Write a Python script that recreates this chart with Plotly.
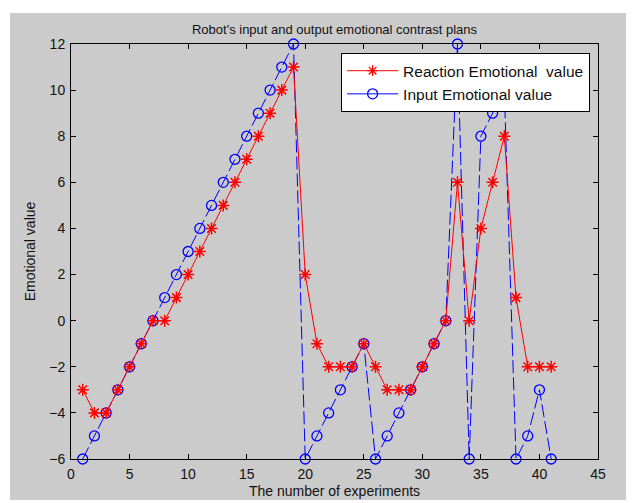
import plotly.graph_objects as go

experiments = list(range(1, 42))
reaction_values = [-3, -4, -4, -3, -2, -1, 0, 0, 1, 2, 3, 4, 5, 6, 7, 8, 9, 10, 11,
                   2, -1, -2, -2, -2, -1, -2, -3, -3, -3, -2, -1, 0, 6, 0, 4, 6, 8,
                   1, -2, -2, -2]
input_values = [-6, -5, -4, -3, -2, -1, 0, 1, 2, 3, 4, 5, 6, 7, 8, 9, 10, 11, 12,
                -6, -5, -4, -3, -2, -1, -6, -5, -4, -3, -2, -1, 0, 12, -6, 8, 9, 10,
                -6, -5, -3, -6]
x_ticks = [0, 5, 10, 15, 20, 25, 30, 35, 40, 45]
y_ticks = [-6, -4, -2, 0, 2, 4, 6, 8, 10, 12]

RED = "#ff0000"
BLUE = "#0000ff"
FONT = "Liberation Sans, Arial, sans-serif"

fig = go.Figure()
fig.add_trace(go.Scatter(
    x=experiments, y=input_values, mode="lines+markers", showlegend=False,
    line=dict(color=BLUE, width=1, dash="13px,4px"),
    marker=dict(symbol="circle-open", size=10, color=BLUE, line=dict(width=1.3)),
    cliponaxis=False,
))
fig.add_trace(go.Scatter(
    x=experiments, y=reaction_values, mode="lines+markers", showlegend=False,
    line=dict(color=RED, width=1),
    marker=dict(symbol="asterisk-open", size=10, color=RED, line=dict(width=1.5, color=RED)),
    cliponaxis=False,
))
# legend entries (solid line samples as in the reference)
fig.add_trace(go.Scatter(
    x=[None], y=[None], mode="lines+markers", name="Reaction Emotional  value",
    line=dict(color=RED, width=1),
    marker=dict(symbol="asterisk-open", size=9, color=RED, line=dict(width=1.3, color=RED)),
))
fig.add_trace(go.Scatter(
    x=[None], y=[None], mode="lines+markers", name="Input Emotional value",
    line=dict(color=BLUE, width=1),
    marker=dict(symbol="circle-open", size=10, color=BLUE, line=dict(width=1.3)),
))

axis_common = dict(
    showgrid=False, zeroline=False, showline=True, linecolor="black", linewidth=1,
    mirror="allticks", ticks="inside", ticklen=5, tickcolor="black",
    tickfont=dict(family=FONT, size=14, color="#111111"), automargin=False,
)

fig.update_layout(
    width=626, height=495,
    margin=dict(l=63, r=36, t=36, b=44),
    paper_bgcolor="white", plot_bgcolor="white",
    font=dict(family=FONT, color="#111111"),
    title=dict(text="Robot's input and output emotional contrast plans",
               x=0.5, xref="paper", xanchor="center", y=1, yanchor="top",
               yref="container", pad=dict(t=17),
               font=dict(size=13, color="#111111")),
    xaxis=dict(range=[0, 45], tickvals=x_ticks, ticklabelstandoff=2,
               title=dict(text="The number of experiments", standoff=5,
                          font=dict(size=14)),
               **axis_common),
    yaxis=dict(range=[-6, 12], tickvals=y_ticks, ticklabelstandoff=2,
               title=dict(text="Emotional value", standoff=10,
                          font=dict(size=14)),
               **axis_common),
    legend=dict(x=0.985, y=0.978, xanchor="right", yanchor="top",
                bgcolor="white", bordercolor="black", borderwidth=1,
                font=dict(size=15.5, color="#111111"), tracegroupgap=0,
                itemwidth=51),
    shapes=[dict(type="rect", xref="paper", yref="paper", layer="below",
                 x0=-0.1157, x1=1.0645, y0=-0.0988, y1=1.0747,
                 fillcolor="#cbcbcb", line=dict(width=0))],
)

fig.write_html("out.html")
